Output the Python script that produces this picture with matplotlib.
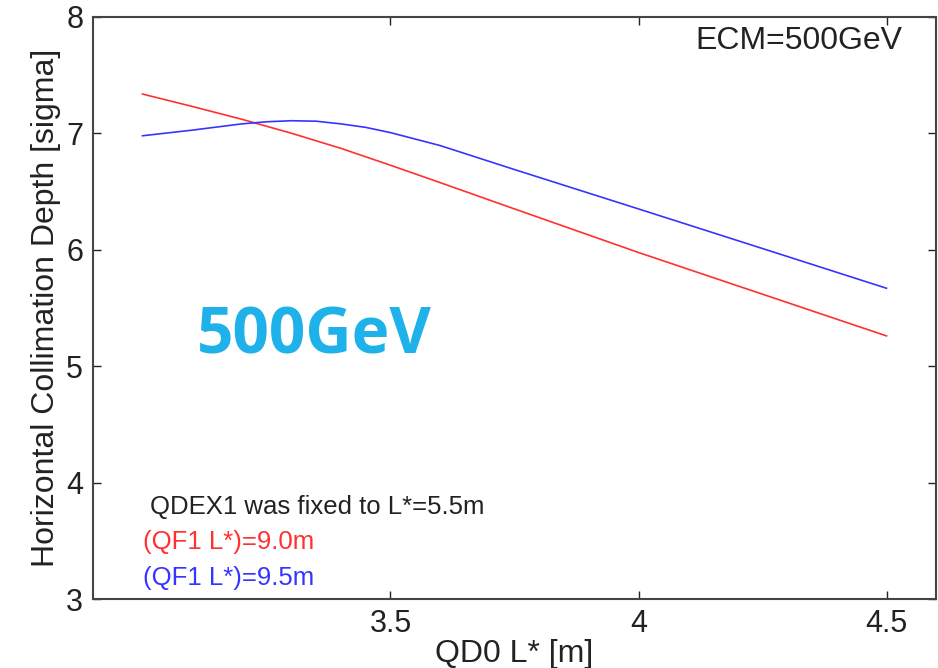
import matplotlib
matplotlib.use("Agg")
import matplotlib.pyplot as plt

plt.rcParams['font.family'] = ['Liberation Sans', 'DejaVu Sans']

# QD0 L* [m] vs horizontal collimation depth [sigma]
qd0_red = [3.0, 3.1, 3.2, 3.3, 3.4, 3.5, 3.6, 3.75, 4.0, 4.25, 4.5]
depth_red = [7.336, 7.23, 7.12, 7.00, 6.87, 6.725, 6.576, 6.35, 5.976, 5.618, 5.26]

qd0_blue = [3.0, 3.1, 3.2, 3.25, 3.3, 3.35, 3.4, 3.45, 3.5, 3.6, 3.75, 4.0, 4.25, 4.5]
depth_blue = [6.978, 7.026, 7.08, 7.098, 7.107, 7.103, 7.08, 7.05, 7.005, 6.894,
              6.688, 6.35, 6.01, 5.669]

x_ticks = [3.5, 4.0, 4.5]
x_tick_labels = ["3.5", "4", "4.5"]
y_ticks = [3, 4, 5, 6, 7, 8]

red = "#ff3030"
blue = "#3535ff"
ink = "#222222"

fig = plt.figure(figsize=(9.38, 6.68), dpi=100)
ax = fig.add_axes([0.099, 0.103, 0.899, 0.872])

ax.plot(qd0_red, depth_red, color=red, linewidth=1.2)
ax.plot(qd0_blue, depth_blue, color=blue, linewidth=1.2)

ax.set_xlim(2.9, 4.6)
ax.set_ylim(3, 8)
ax.set_xticks(x_ticks)
ax.set_xticklabels(x_tick_labels)
ax.set_yticks(y_ticks)
ax.tick_params(direction='in', length=6, width=1, top=True, right=True,
               labelsize=22, colors=ink, pad=7)
for s in ax.spines.values():
    s.set_color('#444444')
    s.set_linewidth(1.5)

ax.set_xlabel("QD0 L* [m]", fontsize=23, color=ink, labelpad=0)
ax.set_ylabel("Horizontal Collimation Depth [sigma]", fontsize=23,
              color=ink, labelpad=4)

ax.text(0.96, 0.959, "ECM=500GeV", transform=ax.transAxes, ha='right',
        va='center', fontsize=23, color=ink)
ax.text(0.123, 0.45, "500GeV", transform=ax.transAxes, ha='left',
        va='center', fontsize=46, fontweight='bold', color='#1eb1ea',
        family=['Open Sans', 'DejaVu Sans'])

ax.text(0.0675, 0.158, "QDEX1 was fixed to L*=5.5m", transform=ax.transAxes,
        ha='left', va='center', fontsize=18.5, color=ink)
ax.text(0.059, 0.098, "(QF1 L*)=9.0m", transform=ax.transAxes,
        ha='left', va='center', fontsize=18.5, color=red)
ax.text(0.059, 0.036, "(QF1 L*)=9.5m", transform=ax.transAxes,
        ha='left', va='center', fontsize=18.5, color=blue)

fig.savefig("out.png", dpi=100)
